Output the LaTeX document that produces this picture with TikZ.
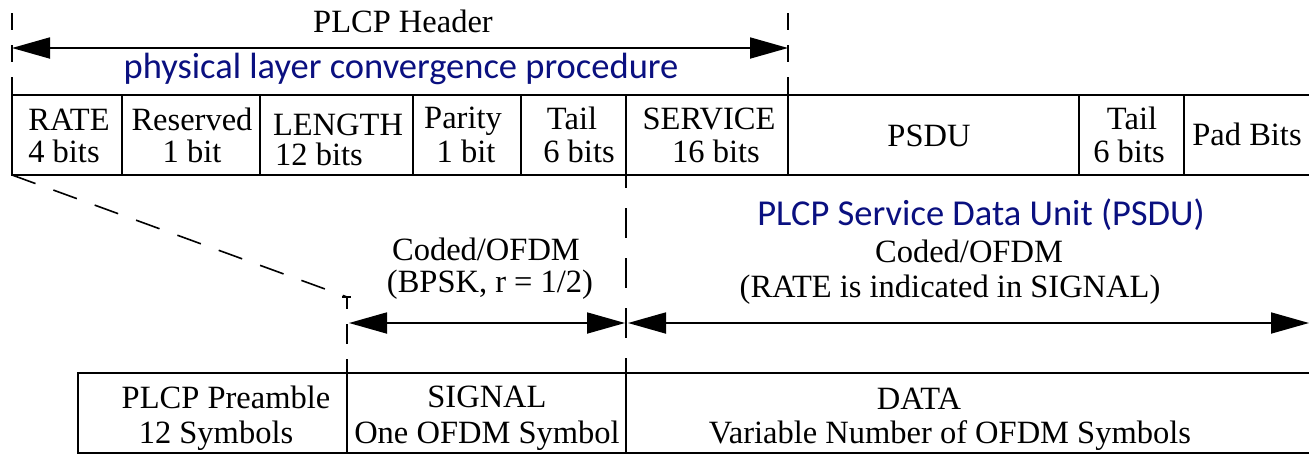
\documentclass[tikz,border=0pt]{standalone}
\usepackage{fontspec}
\setmainfont{Liberation Serif}
\newfontfamily\calfont{Carlito}
\usetikzlibrary{arrows.meta}
\definecolor{navyblue}{RGB}{10,16,128}
\begin{document}
\begin{tikzpicture}[x=1pt,y=-1pt,
  cell/.style={draw, line width=1.8pt, inner sep=0pt, outer sep=0pt, minimum height=80pt, anchor=north west},
  lbl/.style={inner sep=0pt, anchor=base, font=\fontsize{32.5}{34}\selectfont},
  bluelbl/.style={inner sep=0pt, anchor=base, text=navyblue, font=\calfont\fontsize{36.5}{40}\selectfont},
  dimarrow/.style={line width=1.8pt, {Triangle[length=38pt,width=21pt]}-{Triangle[length=38pt,width=21pt]}},
  guide/.style={line width=1.6pt, dash pattern=on 17pt off 15pt},
]
\useasboundingbox[fill=white] (0,0) rectangle (1309,453);

% ---- top row (PLCP header + data fields)
\node[cell, minimum width=110pt] (rate) at (12,95) {};
\node[cell, minimum width=138pt] (res)  at (122,95) {};
\node[cell, minimum width=153pt] (len)  at (260,95) {};
\node[cell, minimum width=108pt] (par)  at (413,95) {};
\node[cell, minimum width=105pt] (tailA) at (521,95) {};
\node[cell, minimum width=162pt] (serv) at (626,95) {};
\node[cell, minimum width=291pt] (psdu) at (788,95) {};
\node[cell, minimum width=105pt] (tailB) at (1079,95) {};
\node[cell, minimum width=140pt] (pad)  at (1184,95) {};

% ---- bottom row
\node[cell, minimum width=269pt] (pre)  at (78,373) {};
\node[cell, minimum width=279pt] (sig)  at (347,373) {};
\node[cell, minimum width=700pt] (data) at (626,373) {};

% ---- header extent guides
\coordinate (hdl) at (12,13);
\coordinate (hdr) at (788,13);
\draw[guide] (hdl) -- (rate.north west);
\draw[guide] (hdr) -- (serv.north east);
\coordinate (al) at (12,48);
\coordinate (ar) at (788,48);
\draw[dimarrow] (al) -- (ar);

% ---- guides down to the symbol row
\coordinate (ext) at (626,188);
\draw[line width=1.8pt] (tailA.south east) -- (ext);
\draw[line width=1.6pt, dash pattern=on 30pt off 20pt, dash phase=30pt] (ext) -- (sig.north east);
\coordinate (dg) at (347,297);
\draw[line width=1.6pt, dash pattern=on 25pt off 19pt] (rate.south west) -- (dg);
\draw[line width=1.6pt, dash pattern=on 20pt off 15pt, dash phase=8pt] (dg) -- (pre.north east);
\coordinate (tk1) at (342,297);
\coordinate (tk2) at (351,297);
\draw[line width=1.2pt] (tk1) -- (tk2);

% ---- arrows
\coordinate (sl) at (349,323);
\coordinate (sr) at (625,323);
\coordinate (dl) at (628,323);
\coordinate (dr) at (1309,323);
\draw[dimarrow] (sl) -- (sr);
\draw[dimarrow] (dl) -- (dr);

% ---- texts
\node[lbl] (hdrtxt) at (403,32) {PLCP Header};
\node[bluelbl] (plcptxt) at (401,78) {physical layer convergence procedure};

\node[lbl] (t1a) at (69,130) {RATE};
\node[lbl] (t1b) at (64,162) {4 bits};
\node[lbl] (t2a) at (192,130) {Reserved};
\node[lbl] (t2b) at (192,162) {1 bit};
\node[lbl] (t3a) at (338,135) {LENGTH};
\node[lbl] (t3b) at (319,165) {12 bits};
\node[lbl] (t4a) at (463,128) {Parity};
\node[lbl] (t4b) at (466,162) {1 bit};
\node[lbl] (t5a) at (572,129) {Tail};
\node[lbl] (t5b) at (579,162) {6 bits};
\node[lbl] (t6a) at (709,129) {SERVICE};
\node[lbl] (t6b) at (716,162) {16 bits};
\node[lbl] (t7)  at (929,146) {PSDU};
\node[lbl] (t8a) at (1132,129) {Tail};
\node[lbl] (t8b) at (1129,162) {6 bits};
\node[lbl] (t9)  at (1247,145) {Pad Bits};

\node[lbl] (c1a) at (486,260) {Coded/OFDM};
\node[lbl] (c1b) at (490,292) {(BPSK, r = 1/2)};
\node[bluelbl] (psdutxt) at (981,225) {PLCP Service Data Unit (PSDU)};
\node[lbl] (c2a) at (969,262) {Coded/OFDM};
\node[lbl] (c2b) at (950,297) {(RATE is indicated in SIGNAL)};

\node[lbl] (b1a) at (226,408) {PLCP Preamble};
\node[lbl] (b1b) at (216,443) {12 Symbols};
\node[lbl] (b2a) at (487,407) {SIGNAL};
\node[lbl] (b2b) at (487,443) {One OFDM Symbol};
\node[lbl] (b3a) at (919,409) {DATA};
\node[lbl] (b3b) at (950,443) {Variable Number of OFDM Symbols};
\end{tikzpicture}
\end{document}
